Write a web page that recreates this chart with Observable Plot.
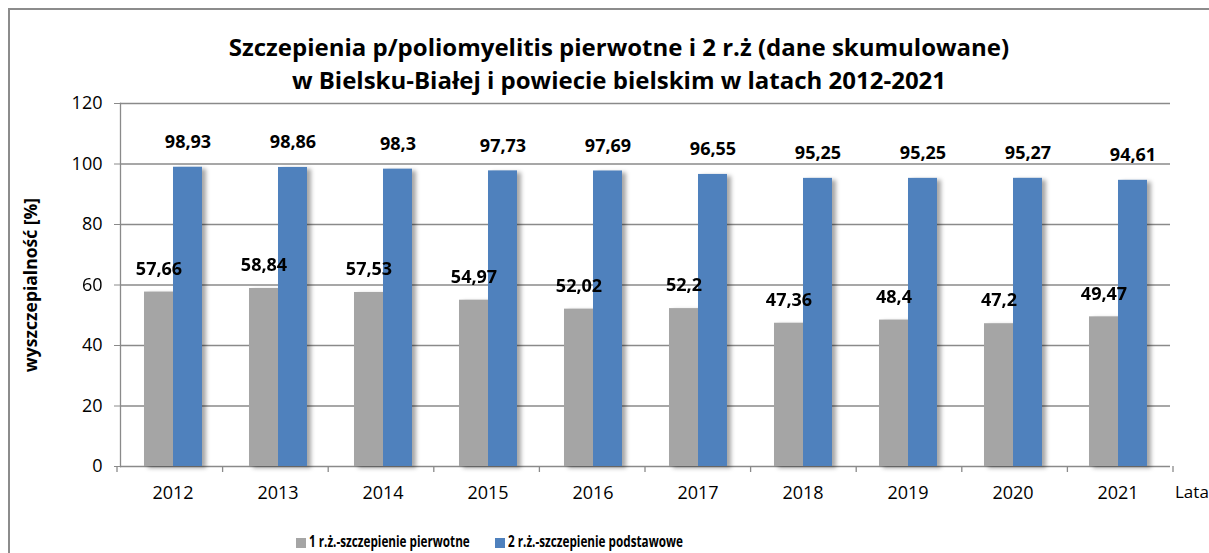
<!DOCTYPE html>
<html><head><meta charset="utf-8">
<script src="https://cdn.jsdelivr.net/npm/d3@7"></script>
<script src="https://cdn.jsdelivr.net/npm/@observablehq/plot@0.6"></script>
<style>
body{margin:0;background:#fff;font-family:"Open Sans",sans-serif;color:#000;}
#wrap{position:relative;width:1209px;height:553px;overflow:hidden;}
#border{position:absolute;left:8px;top:8px;width:1230px;height:580px;border:2px solid #8c8c8c;box-sizing:border-box;}
#title{position:absolute;left:119px;width:1000px;top:30px;text-align:center;font-weight:bold;font-size:24px;line-height:33px;}
#chart{position:absolute;left:0;top:95px;}
#ylab{position:absolute;left:30px;top:285px;transform:translate(-50%,-50%) rotate(-90deg);white-space:nowrap;font-weight:bold;font-size:17.5px;}
#lata{position:absolute;left:1175px;top:480px;font-size:17px;}
#legend{position:absolute;top:530px;left:0;width:1209px;height:22px;font-weight:bold;font-size:16.5px;line-height:22px;}
#legend .item{position:absolute;top:0;white-space:nowrap;}
#legend span.sw{display:inline-block;width:10px;height:10px;margin-right:3px;vertical-align:-1px;}
#legend span.tx{display:inline-block;transform:scaleX(0.71);transform-origin:0 50%;}
</style>
</head><body>
<div id="wrap">
<div id="border"></div>
<div id="title">Szczepienia p/poliomyelitis pierwotne i 2 r.ż (dane skumulowane)<br>w Bielsku-Białej i powiecie bielskim w latach 2012-2021</div>
<div id="ylab">wyszczepialność [%]</div>
<div id="chart"></div>
<div id="lata">Lata</div>
<div id="legend"></div>
</div>
<script>
const years = ["2012","2013","2014","2015","2016","2017","2018","2019","2020","2021"];
const series = ["1 r.ż.-szczepienie pierwotne", "2 r.ż.-szczepienie podstawowe"];
const primary = [57.66, 58.84, 57.53, 54.97, 52.02, 52.2, 47.36, 48.4, 47.2, 49.47];
const basic = [98.93, 98.86, 98.3, 97.73, 97.69, 96.55, 95.25, 95.25, 95.27, 94.61];
const yTicks = [0, 20, 40, 60, 80, 100, 120];
const colors = ["#A5A5A5", "#4F81BD"];

const data = [];
years.forEach((yr, i) => {
  data.push({year: yr, series: series[0], value: primary[i]});
  data.push({year: yr, series: series[1], value: basic[i]});
});
const dataP = data.filter(d => d.series === series[0]);
const dataB = data.filter(d => d.series === series[1]);
const fmt = v => String(v).replace(".", ",");
const gridColor = "#8a8a8a";

const chart = Plot.plot({
  width: 1209, height: 420,
  marginLeft: 117, marginRight: 36, marginTop: 8, marginBottom: 49,
  style: {fontFamily: "Open Sans", fontSize: "18px", color: "#000", background: "transparent", overflow: "visible"},
  fx: {domain: years, padding: 0, label: null},
  x: {domain: series, paddingInner: 0, paddingOuter: 0.76, axis: null},
  y: {domain: [0, 120]},
  color: {domain: series, range: colors},
  marks: [
    Plot.ruleY(yTicks, {stroke: gridColor, strokeWidth: 1.3}),
    Plot.barY(data, {fx: "year", x: "series", y: "value", fill: "series"}),
    Plot.text(dataP, {fx: "year", x: "series", y: "value", text: d => fmt(d.value),
      dy: -23, fontWeight: "bold", fontSize: 18, fill: "#000"}),
    Plot.text(dataB, {fx: "year", x: "series", y: "value", text: d => fmt(d.value),
      dy: -25, fontWeight: "bold", fontSize: 18, fill: "#000"}),
    Plot.axisY({ticks: yTicks, tickSize: 6, tickPadding: 12, label: null, fontSize: 18, stroke: gridColor}),
    Plot.axisFx({anchor: "bottom", tickSize: 0, tickPadding: 20, label: null, fontSize: 18}),
    Plot.frame({anchor: "left", facetAnchor: "left", stroke: gridColor, strokeWidth: 1.3})
  ]
});
document.getElementById("chart").appendChild(chart);

// boundary tick marks on x axis from the fx scale
const fxs = chart.scale("fx"), ys = chart.scale("y");
const [r0, r1] = fxs.range;
const step = (r1 - r0) / years.length;
const y0 = ys.range[0];
const bounds = d3.range(years.length + 1).map(i => r0 + i * step);
const svg = d3.select(chart);
svg.append("g").selectAll("line").data(bounds).join("line")
  .attr("x1", d => d).attr("x2", d => d).attr("y1", y0).attr("y2", y0 + 6)
  .attr("stroke", gridColor).attr("stroke-width", 1.3);
svg.selectAll('g[aria-label="bar"]').style("filter", "drop-shadow(4px 2px 2px rgba(0,0,0,0.35))");

// legend
const leg = d3.select("#legend");
const legLeft = [296, 495];
series.forEach((s, i) => {
  const item = leg.append("div").attr("class", "item").style("left", legLeft[i] + "px");
  item.append("span").attr("class", "sw").style("background", colors[i]);
  item.append("span").attr("class", "tx").text(s);
});
</script>
</body></html>
